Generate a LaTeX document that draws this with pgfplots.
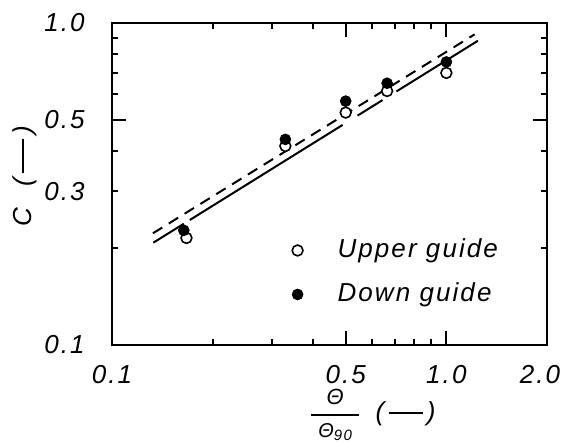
\documentclass[border=0pt]{standalone}
\usepackage{fontspec}
\usepackage{amsmath}
\usepackage{pgfplots}
\pgfplotsset{compat=1.18}
\setmainfont{Liberation Sans}[LetterSpace=8]
\newcommand{\lf}{\fontsize{13}{15}\selectfont\itshape}
\begin{document}
\begin{tikzpicture}
\path[use as bounding box] (-56pt,-49pt) rectangle (224.5pt,172.5pt);
\begin{axis}[
  at={(0,0)}, anchor=south west,
  scale only axis, width=217.5pt, height=161pt,
  xmode=log, ymode=log,
  xmin=0.1, xmax=2, ymin=0.1, ymax=1,
  axis line style={line width=1pt},
  xtick={0.1,0.5,1}, xticklabels={0.1,0.5,1.0},
  extra x ticks={2}, extra x tick labels={2.0},
  extra x tick style={xticklabel style={xshift=-3.5pt}},
  minor xtick={0.2,0.3,0.4,0.6,0.7,0.8,0.9},
  ytick={0.1,0.5,1}, yticklabels={0.1,0.5,1.0},
  extra y ticks={0.3}, extra y tick labels={0.3},
  extra y tick style={major tick length=3pt},
  minor ytick={0.2,0.3,0.4,0.6,0.7,0.8,0.9},
  major tick length=7pt, minor tick length=3pt,
  every tick/.style={line width=1pt, black},
  tick label style={font=\lf},
  xticklabel style={anchor=north, inner sep=0pt, yshift=-10pt},
  yticklabel style={anchor=east, inner sep=0pt, xshift=-13.5pt},
  xlabel={$\genfrac{}{}{1pt}{0}{\makebox[24pt]{\fontsize{11}{13}\selectfont\itshape Θ}}{\makebox[24pt]{\fontsize{10}{12}\selectfont\itshape Θ\raisebox{-1.5pt}{\fontsize{7.5}{9}\selectfont 90}}}$\hspace{7pt}(\,\rule[0.28em]{17pt}{1pt}\,)},
  xlabel style={at={(axis description cs:0.598,0)}, anchor=center, yshift=-35pt, font=\lf},
  ylabel={C\hspace{11pt}(\,\rule[0.28em]{17pt}{1pt}\,)},
  ylabel style={at={([xshift=-43.5pt]axis description cs:0,0.523)}, anchor=center, font=\lf},
  legend image code/.code={\draw[#1] plot coordinates {(2.7pt,0pt)}; \path (0pt,0pt) (22.5pt,0pt);},
  legend style={at={(axis cs:0.344,0.168)}, anchor=west, draw=none, fill=none, font=\lf,
    inner sep=0pt, row sep=9.8pt, nodes={inner sep=0pt, text height=9.5pt, text depth=2.7pt}},
  legend cell align=left,
]
\addplot[forget plot, line width=1pt, dash pattern=on 5.5pt off 3.8pt] coordinates {(0.1326,0.2223) (1.215,0.922)};
\addplot[forget plot, line width=1pt, dash pattern=on 18pt off 3.5pt on 90pt off 8.8pt on 14.7pt off 8.2pt on 27pt off 3pt on 30pt off 5pt] coordinates {(0.1329,0.2078) (1.243,0.881)};
\addplot[only marks, mark=*, mark size=2.7pt, mark options={fill=white, draw=black, line width=0.8pt}] coordinates {(0.167,0.215) (0.33,0.415) (0.5,0.527) (0.665,0.615) (1.0,0.70)};
\addlegendentry{Upper guide}
\addplot[only marks, mark=*, mark size=2.7pt, mark options={fill=black, draw=black}] coordinates {(0.164,0.227) (0.33,0.435) (0.5,0.572) (0.665,0.65) (1.0,0.757)};
\addlegendentry{Down guide}
\end{axis}
\end{tikzpicture}
\end{document}
